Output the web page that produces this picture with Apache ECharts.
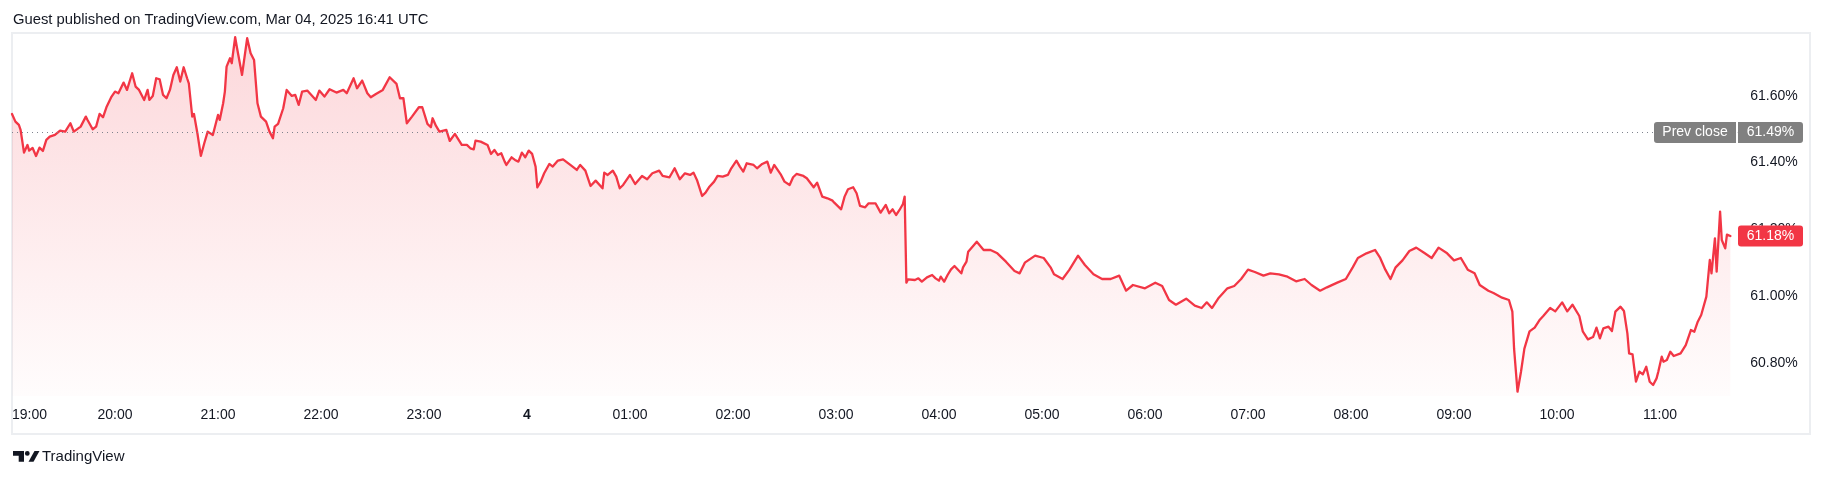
<!DOCTYPE html>
<html>
<head>
<meta charset="utf-8">
<script src="https://cdn.jsdelivr.net/npm/echarts@6/dist/echarts.min.js"></script>
<style>
html,body{margin:0;padding:0;background:#ffffff;}
#chart{width:1823px;height:478px;}
</style>
</head>
<body>
<div id="chart"></div>
<script>
// ---------- data ----------
const titleText = 'Guest published on TradingView.com, Mar 04, 2025 16:41 UTC';
const brandText = 'TradingView';
const hourLabels = ['19:00','20:00','21:00','22:00','23:00','4','01:00','02:00','03:00','04:00','05:00','06:00','07:00','08:00','09:00','10:00','11:00'];
const priceTicks = [60.8, 61.0, 61.2, 61.4, 61.6];
const prevClose = 61.49;
const prevCloseLabel = 'Prev close';

// minutes elapsed since 19:00 (Mar 03) for each traced point
const minutesSince1900 = [
0,2,4,5,7,9,10,12,14,16,18,20,22,25,28,31,34,36,40,43,44,47,49,51,53,55,58,60,62,65,67,70,72,74,77,79,80,82,84,86,88,90,92,94,96,98,100,102,103,105,106,108,110,112,114,117,120,121,123,124,125,127,128,130,131,134,137,139,141,143,145,148,150,152,153,155,158,160,163,165,167,169,172,177,179,182,185,189,193,195,199,201,204,207,209,212,216,220,224,226,228,230,233,237,239,242,244,245,247,249,253,255,
258,262,265,267,269,270,273,277,279,281,283,285,287,288,291,293,295,297,299,301,303,305,306,308,310,313,315,318,321,326,329,331,334,337,340,344,345,347,350,352,354,356,360,363,367,370,373,377,379,383,386,389,392,395,397,399,402,404,406,409,411,414,417,419,422,424,426,428,432,434,437,440,442,444,448,450,453,455,457,461,463,467,469,472,475,478,479,483,485,487,490,492,494,497,499,503,506,509,511,513,515,517,519,520,521,522,526,528,530,533,536,538,540,541,543,545,547,549,553,554,556,557,
562,566,570,574,579,584,587,590,596,601,605,607,612,616,621,625,630,635,640,645,649,653,660,666,670,674,678,684,689,693,696,699,703,708,712,716,720,724,729,733,738,743,748,753,757,762,766,772,777,781,784,789,794,797,800,803,806,810,814,818,823,827,831,836,840,844,848,852,855,860,863,868,872,874,875,877,879,881,884,887,890,892,896,899,903,906,909,913,915,918,921,923,
925,927,930,932,934,937,939,941,942,944,946,948,950,952,954,956,958,959,961,962,964,966,968,972,975,976,978,980,982,984,987,989,990,992,993,995,996,998,999,1001
];

// value (%) at each point
const yieldValues = [
61.546,61.523,61.513,61.498,61.430,61.453,61.436,61.444,61.420,61.445,61.435,61.468,61.478,61.483,61.496,61.493,61.518,61.493,61.508,61.538,61.528,61.500,61.508,61.546,61.536,61.566,61.598,61.613,61.608,61.640,61.618,61.668,61.628,61.618,61.588,61.618,61.588,61.600,61.653,61.650,61.603,61.593,61.618,61.663,61.686,61.643,61.686,61.653,61.638,61.538,61.546,61.488,61.420,61.458,61.493,61.483,61.543,61.528,61.578,61.613,61.688,61.713,61.698,61.776,61.746,61.663,61.773,61.728,61.708,61.578,61.538,61.523,61.493,61.473,61.508,61.516,61.563,61.618,61.600,61.603,61.573,61.613,61.616,61.588,61.616,61.598,61.620,61.610,61.618,61.608,61.653,61.623,61.646,61.608,61.596,61.606,61.618,61.656,61.636,61.593,61.593,61.518,61.538,61.566,61.566,61.516,61.506,61.533,61.510,61.493,61.498,61.465,
61.486,61.453,61.453,61.443,61.440,61.466,61.463,61.453,61.426,61.438,61.423,61.428,61.403,61.393,61.416,61.408,61.403,61.430,61.416,61.436,61.426,61.388,61.326,61.343,61.368,61.396,61.388,61.406,61.410,61.390,61.378,61.393,61.376,61.330,61.346,61.323,61.370,61.363,61.376,61.358,61.323,61.333,61.363,61.336,61.360,61.350,61.368,61.376,61.360,61.356,61.383,61.350,61.368,61.363,61.370,61.348,61.300,61.310,61.326,61.343,61.360,61.358,61.363,61.383,61.406,61.388,61.373,61.398,61.393,61.383,61.396,61.403,61.370,61.393,61.363,61.343,61.333,61.356,61.366,61.360,61.353,61.326,61.340,61.298,61.293,61.286,61.280,61.260,61.298,61.320,61.326,61.308,61.270,61.266,61.278,61.278,61.250,61.273,61.248,61.260,61.243,61.258,61.276,61.298,61.040,61.050,61.048,61.053,61.043,61.056,61.063,61.053,61.046,61.058,61.043,61.063,61.080,61.090,61.068,61.086,61.103,61.133,
61.163,61.138,61.138,61.128,61.103,61.075,61.068,61.100,61.121,61.114,61.086,61.065,61.051,61.079,61.121,61.093,61.065,61.051,61.051,61.061,61.016,61.033,61.023,61.040,61.030,60.988,60.974,60.992,60.971,60.964,60.981,60.964,60.995,61.023,61.030,61.051,61.079,61.072,61.061,61.068,61.065,61.058,61.044,61.051,61.033,61.016,61.026,61.040,61.051,61.086,61.114,61.128,61.138,61.114,61.079,61.051,61.086,61.107,61.135,61.145,61.128,61.114,61.145,61.128,61.107,61.114,61.079,61.068,61.033,61.016,61.009,60.995,60.988,60.953,60.842,60.713,60.772,60.842,60.894,60.905,60.929,60.940,60.964,60.954,60.981,60.954,60.974,60.940,60.894,60.870,60.877,60.905,
60.873,60.903,60.908,60.895,60.953,60.968,60.955,60.888,60.828,60.825,60.743,60.773,60.765,60.788,60.743,60.733,60.753,60.773,60.818,60.803,60.808,60.833,60.820,60.828,60.853,60.855,60.898,60.893,60.923,60.943,60.998,61.108,61.068,61.173,61.073,61.253,61.168,61.143,61.184,61.180
];

// ---------- chart ----------
const lineColor = '#f23645';
const textColor = '#131722';
const fontFamily = "'Liberation Sans', Arial, sans-serif";
const seriesData = minutesSince1900.map((m, i) => [m, yieldValues[i]]);

const chart = echarts.init(document.getElementById('chart'), null, {renderer: 'canvas'});

chart.setOption({
  animation: false,
  backgroundColor: '#ffffff',
  grid: {left: 12, right: 85.75, top: 35.9, height: 360.15, containLabel: false},
  xAxis: {
    type: 'value', min: 0, max: 1005, interval: 60,
    axisLine: {show: false}, axisTick: {show: false}, splitLine: {show: false},
    axisLabel: {
      color: textColor, fontSize: 14, fontFamily: fontFamily, margin: 12,
      showMaxLabel: false, alignMinLabel: 'left',
      formatter: function (v) {
        if (v % 60 !== 0) return '';
        const s = hourLabels[v / 60];
        if (!s) return '';
        return s === '4' ? '{b|4}' : s;
      },
      rich: {b: {fontWeight: 'bold', fontSize: 14, fontFamily: fontFamily, color: textColor}}
    }
  },
  yAxis: {
    type: 'value', position: 'right', min: 60.70, max: 61.78, scale: true,
    axisLine: {show: false}, axisTick: {show: false}, splitLine: {show: false},
    axisLabel: {
      color: textColor, fontSize: 14, fontFamily: fontFamily, margin: 13,
      customValues: priceTicks,
      formatter: function (v) { return v.toFixed(2) + '%'; }
    }
  },
  series: [{
    type: 'line',
    data: seriesData,
    showSymbol: false,
    symbol: 'none',
    sampling: false,
    lineStyle: {color: lineColor, width: 2.3, join: 'round', cap: 'round'},
    itemStyle: {color: lineColor},
    areaStyle: {
      origin: 'start',
      color: {type: 'linear', x: 0, y: 0, x2: 0, y2: 1, colorStops: [
        {offset: 0, color: 'rgba(242,54,69,0.28)'},
        {offset: 1, color: 'rgba(242,54,69,0.02)'}
      ]}
    },
    markLine: {
      silent: true, symbol: 'none', label: {show: false},
      lineStyle: {color: '#7f838e', type: [1, 4], width: 1},
      data: [{yAxis: prevClose}]
    },
    z: 2
  }]
});

const yPrev = chart.convertToPixel({yAxisIndex: 0}, prevClose);
const lastVal = yieldValues[yieldValues.length - 1];
const yLast = chart.convertToPixel({yAxisIndex: 0}, lastVal);
const boxH = 21;

chart.setOption({
  graphic: [
    {type: 'rect', silent: true, z: 0, shape: {x: 12, y: 33, width: 1798, height: 401},
     style: {fill: 'none', stroke: '#eceef1', lineWidth: 2}},
    {type: 'text', silent: true, left: 13, top: 12,
     style: {text: titleText, fill: textColor, font: "14.8px 'Liberation Sans', Arial, sans-serif"}},
    // prev close label
    {type: 'rect', silent: true, z: 10, shape: {x: 1654, y: yPrev - boxH / 2, width: 82, height: boxH, r: [3, 0, 0, 3]},
     style: {fill: '#808080'}},
    {type: 'text', silent: true, z: 11, x: 1695, y: yPrev,
     style: {text: prevCloseLabel, fill: '#ffffff', align: 'center', verticalAlign: 'middle', font: "14px 'Liberation Sans', Arial, sans-serif"}},
    {type: 'rect', silent: true, z: 10, shape: {x: 1738, y: yPrev - boxH / 2, width: 65, height: boxH, r: [0, 3, 3, 0]},
     style: {fill: '#808080'}},
    {type: 'text', silent: true, z: 11, x: 1770.5, y: yPrev,
     style: {text: prevClose.toFixed(2) + '%', fill: '#ffffff', align: 'center', verticalAlign: 'middle', font: "14px 'Liberation Sans', Arial, sans-serif"}},
    // last value label
    {type: 'rect', silent: true, z: 10, shape: {x: 1738, y: yLast - boxH / 2, width: 65, height: boxH, r: 3},
     style: {fill: lineColor}},
    {type: 'text', silent: true, z: 11, x: 1770.5, y: yLast,
     style: {text: lastVal.toFixed(2) + '%', fill: '#ffffff', align: 'center', verticalAlign: 'middle', font: "14px 'Liberation Sans', Arial, sans-serif"}},
    // TradingView logo
    {type: 'group', silent: true, children: [
      {type: 'polygon', shape: {points: [[13, 451], [24, 451], [24, 461.7], [18.7, 461.7], [18.7, 455.7], [13, 455.7]]}, style: {fill: textColor}},
      {type: 'circle', shape: {cx: 27.3, cy: 453.4, r: 2.4}, style: {fill: textColor}},
      {type: 'polygon', shape: {points: [[28.5, 461.7], [34.5, 451], [39.5, 451], [33.5, 461.7]]}, style: {fill: textColor}}
    ]},
    {type: 'text', silent: true, x: 42, y: 456.5,
     style: {text: brandText, fill: textColor, verticalAlign: 'middle', font: "15px 'Liberation Sans', Arial, sans-serif"}}
  ]
});
</script>
</body>
</html>
